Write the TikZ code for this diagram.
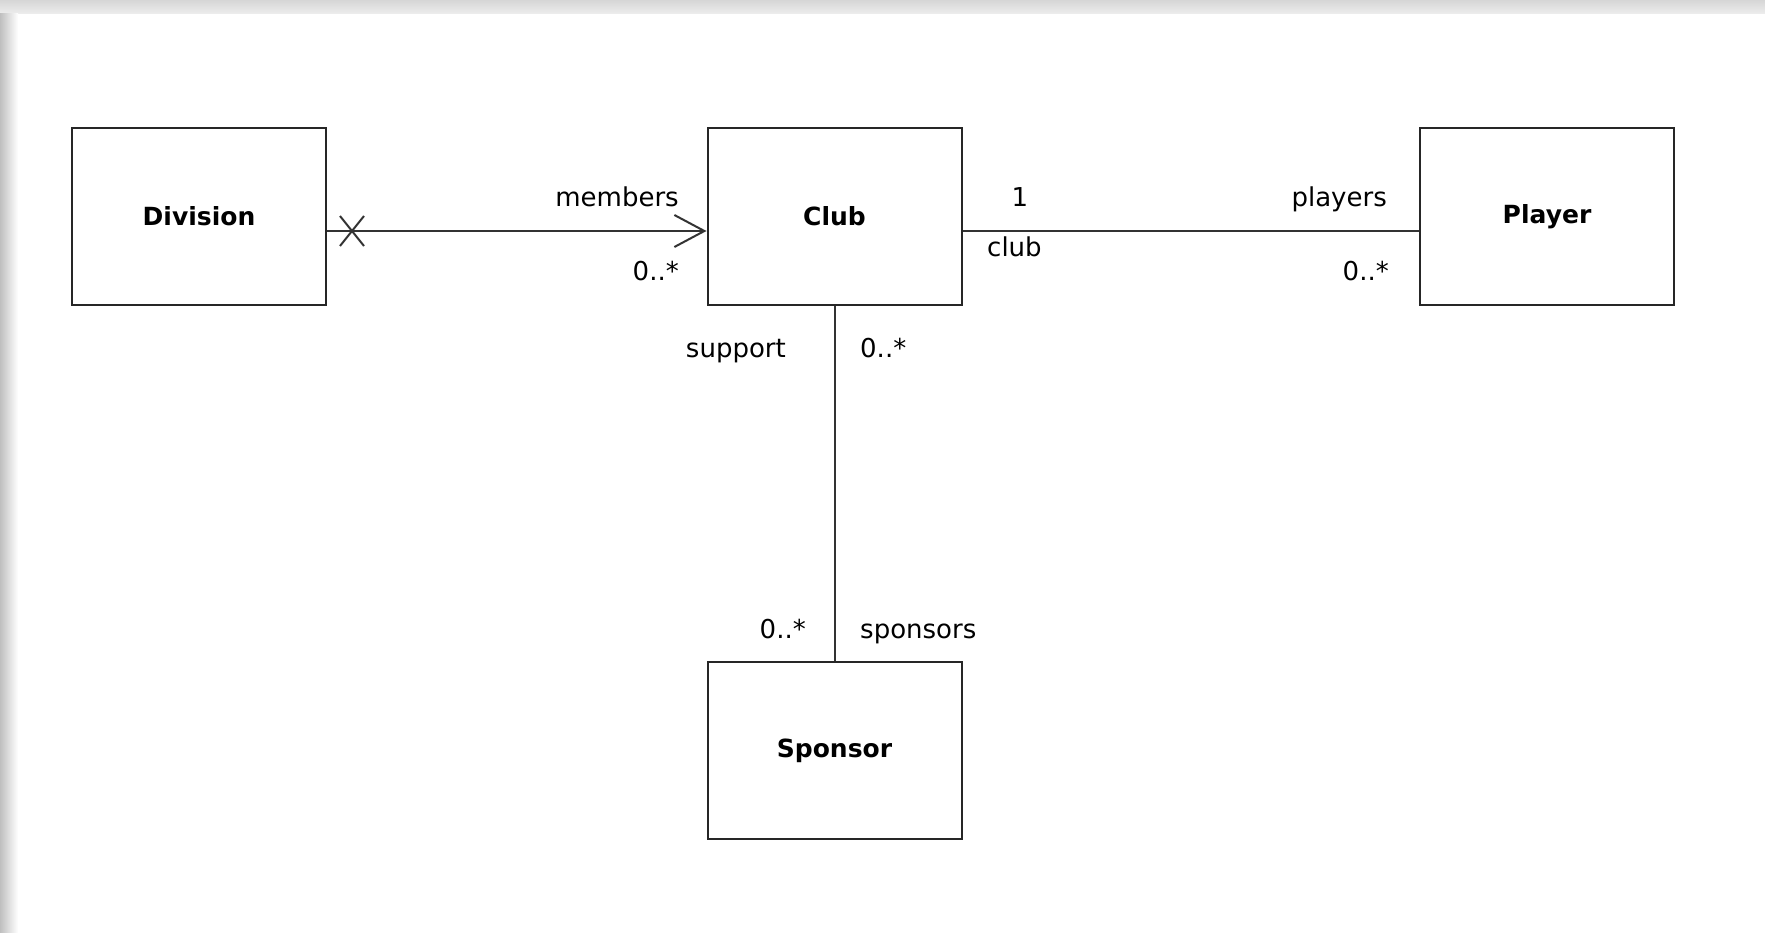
\documentclass[tikz,border=0pt]{standalone}
\usepackage{fontspec}
\setmainfont{DejaVu Sans}
\usetikzlibrary{arrows.meta}
\begin{document}
\begin{tikzpicture}[x=1pt,y=-1pt,
  cls/.style={draw=black!85, line width=2pt, minimum width=254pt, minimum height=177pt, inner sep=0pt, font=\fontsize{25}{30}\selectfont\bfseries},
  lbl/.style={font=\fontsize{26}{30}\selectfont, inner sep=0pt},
  assoc/.style={draw=black!80, line width=2pt}]
\useasboundingbox (0,0) rectangle (1765,933);
\fill[white] (0,0) rectangle (1765,933);
\shade[top color=gray!32, bottom color=gray!14] (0,0) rectangle (1765,14);
\shade[left color=gray!50, right color=white] (0,14) rectangle (18,933);

\node[cls] (division) at (199,216.5) {Division};
\node[cls] (club) at (834.5,216.5) {Club};
\node[cls] (player) at (1547,216.5) {Player};
\node[cls] (sponsor) at (834.5,750.5) {Sponsor};

% Division -> Club (navigable, non-navigable end marked X)
\draw[assoc, -{Straight Barb[length=30pt,width=32pt]}] ([yshift=-14.5pt]division.east) -- ([yshift=-14.5pt]club.west);
\coordinate (xm) at ([xshift=25pt,yshift=-14.5pt]division.east);
\draw[assoc] (xm) ++(-12,-15) -- ++(24,30);
\draw[assoc] (xm) ++(-12,15) -- ++(24,-30);
\node[lbl, anchor=base east] (members) at (679,207) {members};
\node[lbl, anchor=base east] (m1) at (679,281) {0..*};

% Club -- Player
\draw[assoc] ([yshift=-14.5pt]club.east) -- ([yshift=-14.5pt]player.west);
\node[lbl, anchor=base] (one) at (1020,207) {1};
\node[lbl, anchor=base west] (clubrole) at (987,257) {club};
\node[lbl, anchor=base east] (players) at (1387,207) {players};
\node[lbl, anchor=base east] (m2) at (1389,281) {0..*};

% Club -- Sponsor
\draw[assoc] (club.south) -- (sponsor.north);
\node[lbl, anchor=base east] (support) at (786,358) {support};
\node[lbl, anchor=base west] (m3) at (860,358) {0..*};
\node[lbl, anchor=base east] (m4) at (806,638) {0..*};
\node[lbl, anchor=base west] (sponsors) at (860,638) {sponsors};
\end{tikzpicture}
\end{document}
